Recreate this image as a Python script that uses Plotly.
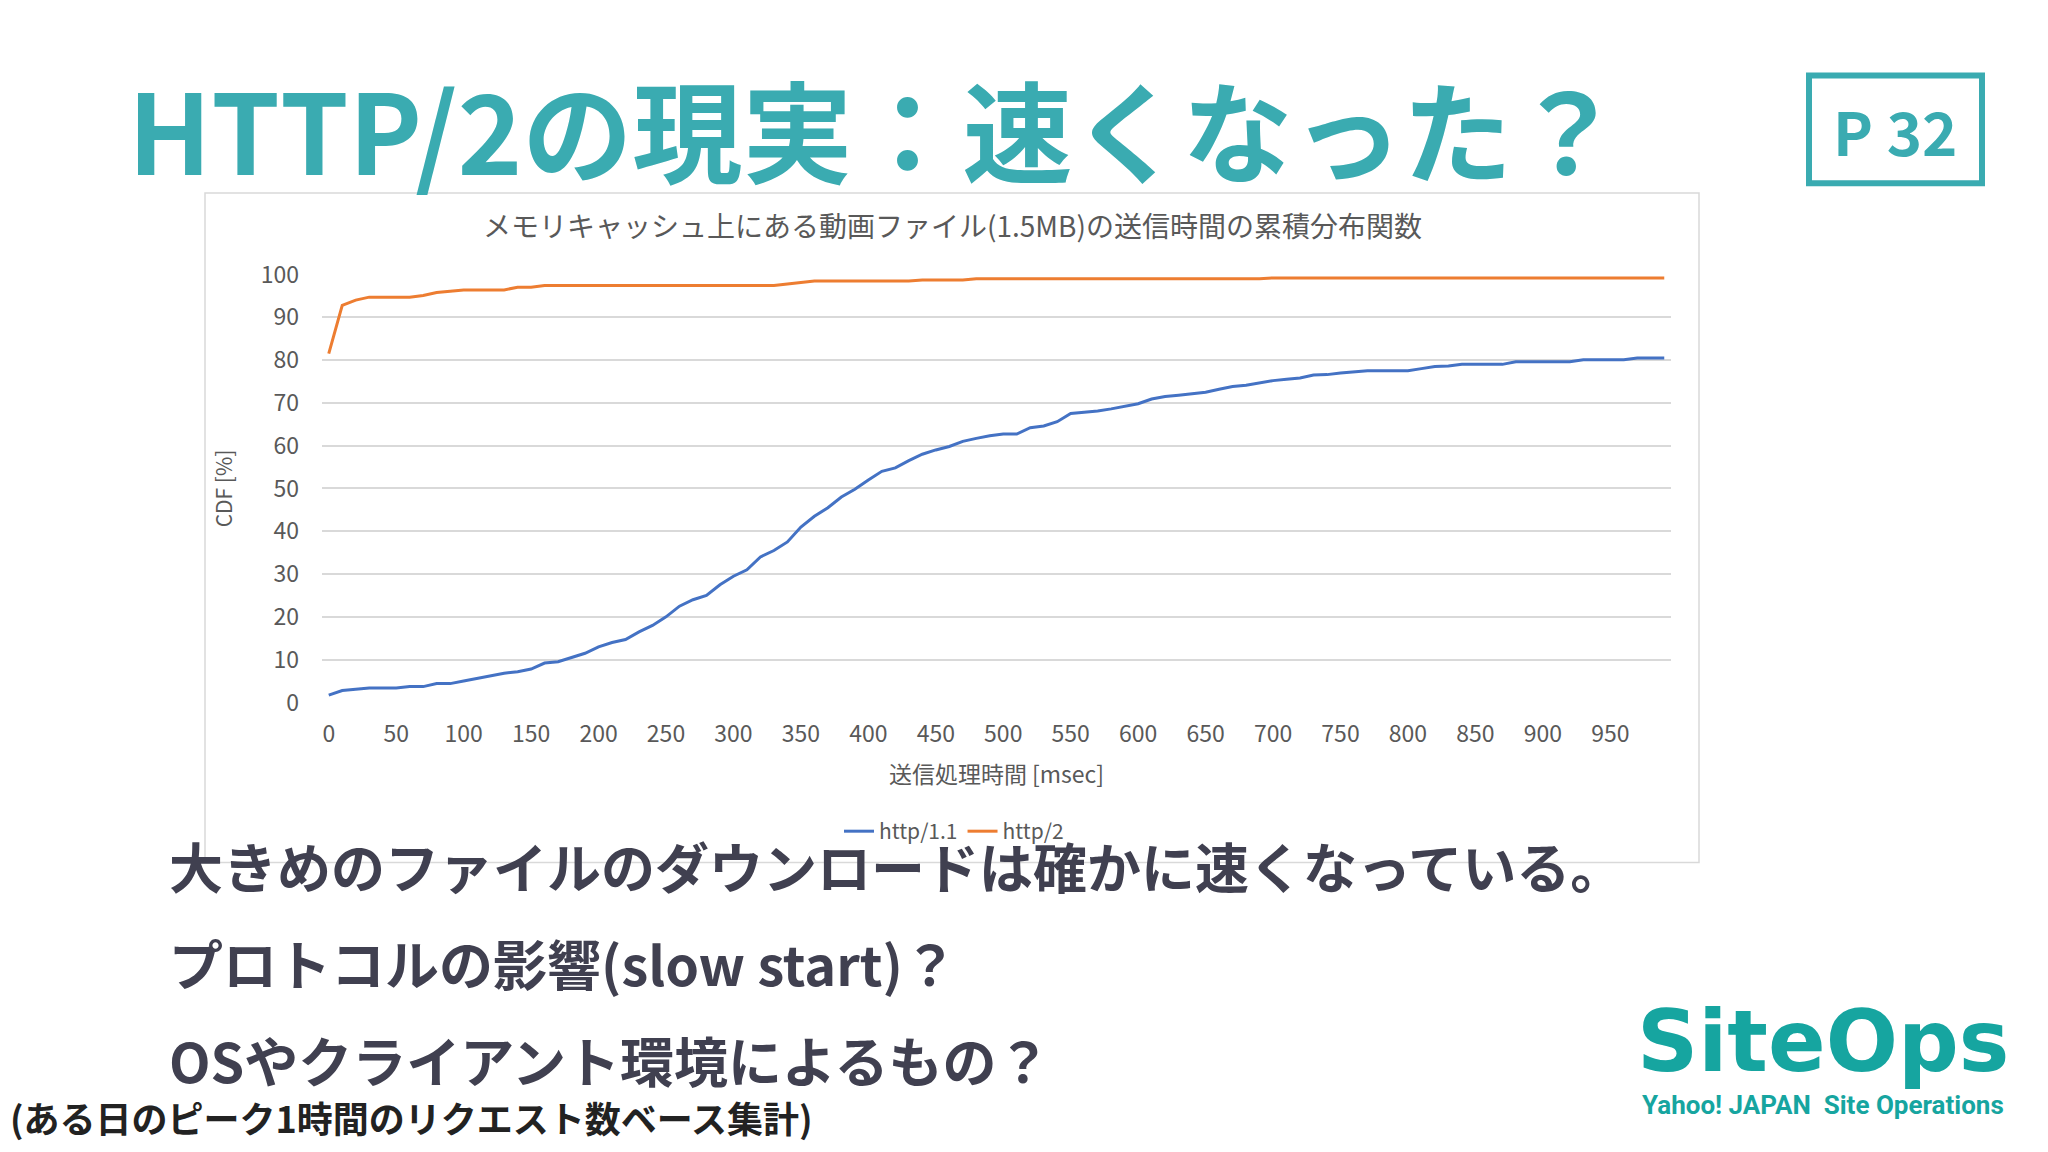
import plotly.graph_objects as go

W, H = 2048, 1152
ms = list(range(0, 1000, 10))
# http/1.1 CDF values (every 10 ms)
h1 = [1.7, 2.8, 3.1, 3.4, 3.4, 3.4, 3.7, 3.7, 4.4, 4.4,
      5.0, 5.6, 6.2, 6.8, 7.2, 7.8, 9.2, 9.5, 10.5, 11.5,
      13.0, 14.0, 14.7, 16.5, 18.0, 20.0, 22.5, 24.0, 25.0, 27.5,
      29.5, 31.0, 34.0, 35.5, 37.5, 41.0, 43.5, 45.5, 48.0, 49.8,
      52.0, 54.0, 54.8, 56.5, 58.0, 59.0, 59.8, 61.0, 61.7, 62.3,
      62.7, 62.7, 64.2, 64.6, 65.6, 67.5, 67.8, 68.1, 68.6, 69.2,
      69.8, 70.9, 71.5, 71.8, 72.2, 72.5, 73.2, 73.8, 74.1, 74.7,
      75.2, 75.5, 75.8, 76.5, 76.6, 77.0, 77.3, 77.5, 77.5, 77.5,
      77.5, 78.0, 78.5, 78.6, 79.0, 79.0, 79.0, 79.0, 79.6, 79.6,
      79.6, 79.6, 79.6, 80.1, 80.1, 80.1, 80.1, 80.5, 80.5, 80.5]
# http/2 CDF values (every 10 ms)
h2 = [81.5, 92.8, 94.0, 94.7, 94.7, 94.7, 94.7, 95.1, 95.8, 96.1,
      96.4, 96.4, 96.4, 96.4, 97.0, 97.0, 97.4, 97.4, 97.4, 97.4,
      97.4, 97.4, 97.4, 97.4, 97.4, 97.4, 97.4, 97.4, 97.4, 97.4,
      97.4, 97.4, 97.4, 97.4, 97.8, 98.2, 98.5, 98.5, 98.5, 98.5,
      98.5, 98.5, 98.5, 98.5, 98.7, 98.7, 98.7, 98.7, 99.0, 99.0,
      99.0, 99.0, 99.0, 99.0, 99.0, 99.0, 99.0, 99.0, 99.0, 99.0,
      99.0, 99.0, 99.0, 99.0, 99.0, 99.0, 99.0, 99.0, 99.0, 99.0,
      99.2, 99.2, 99.2, 99.2, 99.2, 99.2, 99.2, 99.2, 99.2, 99.2,
      99.2, 99.2, 99.2, 99.2, 99.2, 99.2, 99.2, 99.2, 99.2, 99.2,
      99.2, 99.2, 99.2, 99.2, 99.2, 99.2, 99.2, 99.2, 99.2, 99.2]
xticks = list(range(0, 1000, 50))
yticks = list(range(0, 101, 10))

F = "Noto Sans CJK JP"
TEAL = "#3aabb1"
fig = go.Figure()
fig.add_trace(go.Scatter(x=ms, y=h1, mode="lines", name="http/1.1",
                         line=dict(color="#4472c4", width=3)))
fig.add_trace(go.Scatter(x=ms, y=h2, mode="lines", name="http/2",
                         line=dict(color="#ed7d31", width=3)))

def px(x): return x / W
def py(y): return 1 - y / H

fig.update_layout(
    width=W, height=H, margin=dict(l=0, r=0, t=0, b=0),
    paper_bgcolor="white", plot_bgcolor="white",
    font=dict(family=F, color="#595959"),
    xaxis=dict(domain=[px(314), px(1663)], range=[-5, 995], tickvals=xticks,
               showgrid=False, zeroline=False, showline=False,
               tickfont=dict(size=23, color="#595959"), ticks="", ticklabelstandoff=16,
               title=dict(text="送信処理時間 [msec]", font=dict(size=23, color="#595959"), standoff=18)),
    yaxis=dict(domain=[py(696), py(255)], range=[0, 100], tickvals=yticks,
               showgrid=True, gridcolor="#d9d9d9", gridwidth=1.5, zeroline=False,
               tickfont=dict(size=23, color="#595959"), ticks="", ticklabelstandoff=22,
               title=dict(text="CDF [%]", font=dict(size=21, color="#595959"), standoff=22)),
    legend=dict(orientation="h", x=px(946), y=py(829), xanchor="center", yanchor="middle",
                font=dict(size=21, color="#595959"), bgcolor="rgba(0,0,0,0)"),
    shapes=[
        dict(type="rect", xref="paper", yref="paper", x0=px(197), x1=px(1691), y0=py(861), y1=py(171),
             line=dict(color="#d9d9d9", width=1.5), layer="below"),
        dict(type="rect", xref="paper", yref="paper", x0=px(1801), x1=px(1974), y0=py(161), y1=py(50),
             line=dict(color=TEAL, width=6)),
    ],
    annotations=[
        dict(text="<b>HTTP/2の現実：速くなった？</b>", x=px(118), y=py(103), xref="paper", yref="paper",
             xanchor="left", yanchor="middle", showarrow=False, font=dict(size=110, color=TEAL, family=F)),
        dict(text="<b>P 32</b>", x=px(1887), y=py(106), xref="paper", yref="paper",
             xanchor="center", yanchor="middle", showarrow=False, font=dict(size=60, color=TEAL, family=F)),
        dict(text="メモリキャッシュ上にある動画ファイル(1.5MB)の送信時間の累積分布関数", x=px(944), y=py(204),
             xref="paper", yref="paper", xanchor="center", yanchor="middle", showarrow=False,
             font=dict(size=28, color="#595959", family=F)),
        dict(text="<b>大きめのファイルのダウンロードは確かに速くなっている。</b>", x=px(159), y=py(864),
             xref="paper", yref="paper", xanchor="left", yanchor="middle", showarrow=False,
             font=dict(size=54, color="#404050", family=F)),
        dict(text="<b>プロトコルの影響(slow start)？</b>", x=px(159), y=py(964),
             xref="paper", yref="paper", xanchor="left", yanchor="middle", showarrow=False,
             font=dict(size=54, color="#404050", family=F)),
        dict(text="<b>OSやクライアント環境によるもの？</b>", x=px(159), y=py(1064),
             xref="paper", yref="paper", xanchor="left", yanchor="middle", showarrow=False,
             font=dict(size=54, color="#404050", family=F)),
        dict(text="<b>(ある日のピーク1時間のリクエスト数ベース集計)</b>", x=px(0), y=py(1123),
             xref="paper", yref="paper", xanchor="left", yanchor="middle", showarrow=False,
             font=dict(size=36, color="#222222", family=F)),
        dict(text="<b>SiteOps</b>", x=px(1815), y=py(1045), xref="paper", yref="paper",
             xanchor="center", yanchor="middle", showarrow=False,
             font=dict(size=85, color="#16a5a0", family="DejaVu Sans")),
        dict(text="<b>Yahoo! JAPAN  Site Operations</b>", x=px(1815), y=py(1111), xref="paper", yref="paper",
             xanchor="center", yanchor="middle", showarrow=False,
             font=dict(size=26, color="#16a5a0", family="Roboto")),
    ],
)
fig.write_html("out.html")
